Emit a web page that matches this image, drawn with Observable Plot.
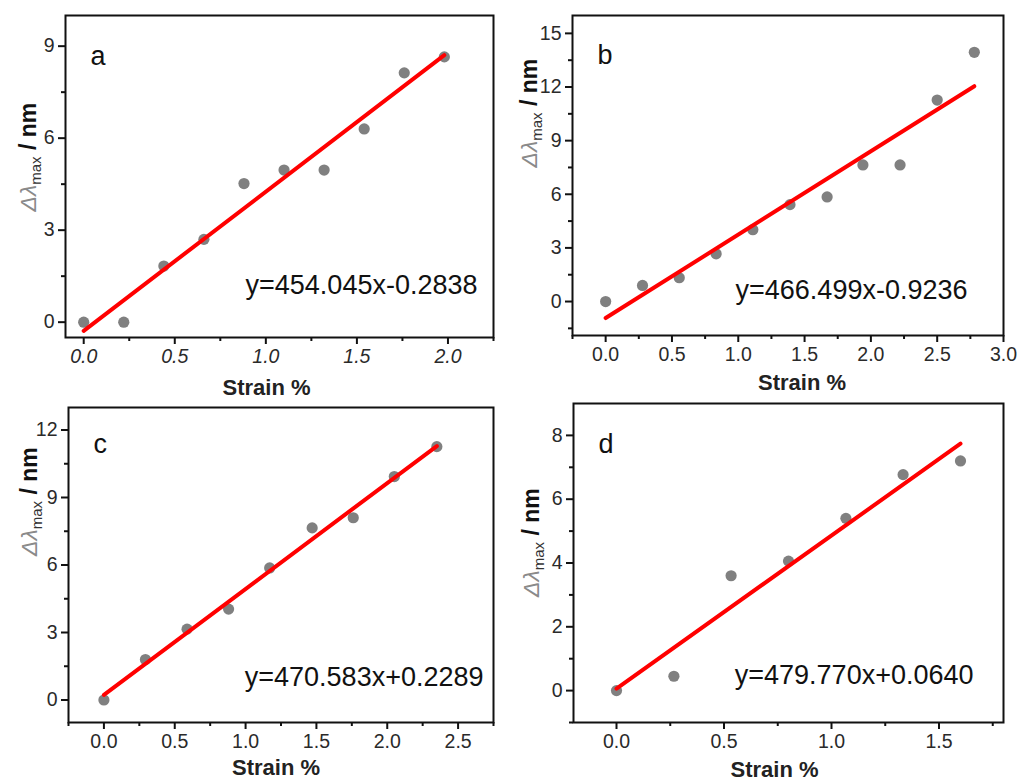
<!DOCTYPE html>
<html>
<head>
<meta charset="utf-8">
<script src="https://cdn.jsdelivr.net/npm/d3@7"></script>
<script src="https://cdn.jsdelivr.net/npm/@observablehq/plot@0.6"></script>
<style>
html, body { margin: 0; padding: 0; background: #fff; }
#chart { position: relative; width: 1020px; height: 783px; overflow: hidden; background: #fff; }
.panel { position: absolute; }
</style>
</head>
<body>
<div id="chart"></div>
<script>
// ---- data ----
const panelLabels = ["a", "b", "c", "d"];
const xLabel = "Strain %";
const yLabel = "Δλmax / nm";

const strainA = [0, 0.22, 0.44, 0.66, 0.88, 1.10, 1.32, 1.54, 1.76, 1.98];
const shiftA  = [0, 0, 1.83, 2.70, 4.52, 4.96, 4.96, 6.30, 8.13, 8.65];

const strainB = [0, 0.278, 0.555, 0.833, 1.11, 1.39, 1.67, 1.94, 2.22, 2.50, 2.78];
const shiftB  = [0, 0.90, 1.33, 2.67, 4.02, 5.42, 5.85, 7.64, 7.64, 11.27, 13.94];

const strainC = [0, 0.293, 0.587, 0.88, 1.17, 1.47, 1.76, 2.05, 2.35];
const shiftC  = [0, 1.80, 3.15, 4.04, 5.87, 7.65, 8.10, 9.93, 11.26];

const strainD = [0, 0.267, 0.533, 0.80, 1.067, 1.333, 1.60];
const shiftD  = [0, 0.45, 3.60, 4.06, 5.40, 6.77, 7.20];

const slopes     = [454.045, 466.499, 470.583, 479.770];
const intercepts = [-0.2838, -0.9236, 0.2289, 0.0640];

const xTicksA = [0, 0.5, 1, 1.5, 2];
const xMinorA = [0.25, 0.75, 1.25, 1.75, 2.25];
const yTicksA = [0, 3, 6, 9];
const yMinorA = [1.5, 4.5, 7.5];

const xTicksB = [0, 0.5, 1, 1.5, 2, 2.5, 3];
const xMinorB = [-0.25, 0.25, 0.75, 1.25, 1.75, 2.25, 2.75];
const yTicksB = [0, 3, 6, 9, 12, 15];
const yMinorB = [-1.5, 1.5, 4.5, 7.5, 10.5, 13.5];

const xTicksC = [0, 0.5, 1, 1.5, 2, 2.5];
const xMinorC = [-0.25, 0.25, 0.75, 1.25, 1.75, 2.25, 2.75];
const yTicksC = [0, 3, 6, 9, 12];
const yMinorC = [1.5, 4.5, 7.5, 10.5];

const xTicksD = [0, 0.5, 1, 1.5];
const xMinorD = [0.25, 0.75, 1.25, 1.75];
const yTicksD = [0, 2, 4, 6, 8];
const yMinorD = [-1, 1, 3, 5, 7];

// ---- layout (positions / styles) ----
const layout = [
  {left: 0,   top: 0,   width: 510, height: 400, ml: 65, mr: 17, mt: 15, mb: 63,
   xDomain: [-0.1, 2.25], yDomain: [-0.5, 10], italicX: true,
   ylDx: -37, ylDy: 35, xlDx: -13, xlDy: 57, eqDx: -16, eqDy: -44, lbDy: 49},
  {left: 510, top: 0,   width: 510, height: 400, ml: 62, mr: 17, mt: 15, mb: 65,
   xDomain: [-0.25, 3], yDomain: [-1.9, 16], italicX: false,
   ylDx: -43, ylDy: -8, xlDx: 14, xlDy: 54, eqDx: -36, eqDy: -37, lbDy: 48},
  {left: 0,   top: 400, width: 510, height: 383, ml: 68, mr: 17, mt: 7, mb: 61,
   xDomain: [-0.25, 2.75], yDomain: [-1, 13], italicX: false,
   ylDx: -39, ylDy: -9, xlDx: -5, xlDy: 52, eqDx: -10, eqDy: -37, lbDy: 45},
  {left: 510, top: 400, width: 510, height: 383, ml: 63, mr: 17, mt: 3, mb: 61,
   xDomain: [-0.2, 1.8], yDomain: [-1, 9], italicX: false,
   ylDx: -42, ylDy: 34, xlDx: -14, xlDy: 54, eqDx: -30, eqDy: -39, lbDy: 49}
];

const strains = [strainA, strainB, strainC, strainD];
const shifts  = [shiftA, shiftB, shiftC, shiftD];
const xTicks = [xTicksA, xTicksB, xTicksC, xTicksD];
const xMinor = [xMinorA, xMinorB, xMinorC, xMinorD];
const yTicks = [yTicksA, yTicksB, yTicksC, yTicksD];
const yMinor = [yMinorA, yMinorB, yMinorC, yMinorD];

const FONT = "'Liberation Sans', Arial, Helvetica, sans-serif";
const chart = document.getElementById("chart");

function eqText(s, b) {
  return `y=${s.toFixed(3)}x${b < 0 ? "-" : "+"}${Math.abs(b).toFixed(4)}`;
}

layout.forEach((L, i) => {
  const rows = strains[i].map((x, j) => ({strain: x, shift: shifts[i][j]}));
  const xr = d3.extent(strains[i]);
  const fit = xr.map(x => ({strain: x, shift: slopes[i] * x / 100 + intercepts[i]}));

  const svg = Plot.plot({
    width: L.width,
    height: L.height,
    marginLeft: L.ml, marginRight: L.mr, marginTop: L.mt, marginBottom: L.mb,
    style: {fontFamily: FONT, fontSize: "19.5px", color: "#2a2a2a", background: "transparent", overflow: "visible"},
    x: {domain: L.xDomain, label: null},
    y: {domain: L.yDomain, label: null},
    marks: [
      Plot.axisX(xTicks[i], {anchor: "bottom", tickSize: 7, tickPadding: 5, strokeWidth: 2, stroke: "#111",
        tickFormat: d3.format(".1f"), label: null, fontStyle: L.italicX ? "italic" : "normal"}),
      Plot.axisX(xMinor[i], {anchor: "bottom", tickSize: 4, strokeWidth: 2, stroke: "#111",
        tickFormat: () => "", label: null}),
      Plot.axisY(yTicks[i], {anchor: "left", tickSize: 7, tickPadding: 4, strokeWidth: 2, stroke: "#111",
        tickFormat: d3.format("d"), label: null}),
      Plot.axisY(yMinor[i], {anchor: "left", tickSize: 4, strokeWidth: 2, stroke: "#111",
        tickFormat: () => "", label: null}),
      Plot.frame({stroke: "#111", strokeWidth: 2}),
      Plot.dot(rows, {x: "strain", y: "shift", r: 5.6, fill: "#808080"}),
      Plot.line(fit, {x: "strain", y: "shift", stroke: "#f00", strokeWidth: 4}),
      Plot.text([panelLabels[i]], {frameAnchor: "top-left", dx: 25, dy: L.lbDy, lineAnchor: "bottom",
        textAnchor: "start", fontSize: 27, fill: "#111"}),
      Plot.text([eqText(slopes[i], intercepts[i])], {frameAnchor: "bottom-right", dx: L.eqDx, dy: L.eqDy,
        lineAnchor: "bottom", textAnchor: "end", fontSize: 27, fill: "#111"}),
      Plot.text([xLabel], {frameAnchor: "bottom", dx: L.xlDx, dy: L.xlDy, lineAnchor: "bottom",
        fontSize: 22, fontWeight: "bold", fill: "#222"}),
      Plot.text([yLabel], {frameAnchor: "left", dx: L.ylDx, dy: L.ylDy, rotate: -90,
        fontSize: 23, fill: "#222"})
    ]
  });
  svg.classList.add("panel");
  svg.style.left = L.left + "px";
  svg.style.top = L.top + "px";
  chart.appendChild(svg);

  // rich y label: italic grey Δλ, subscript "max", bold "/ nm"
  svg.querySelectorAll("text").forEach(t => {
    if (t.textContent === yLabel) {
      t.textContent = "";
      const sel = d3.select(t);
      sel.append("tspan").attr("font-style", "italic").attr("fill", "#8a8a8a").text("Δλ");
      sel.append("tspan").attr("font-size", 15).attr("dy", 5).attr("fill", "#333").text("max");
      sel.append("tspan").attr("dy", -5).attr("font-weight", "bold").attr("fill", "#111").text(" / nm");
    }
  });
});
</script>
</body>
</html>
